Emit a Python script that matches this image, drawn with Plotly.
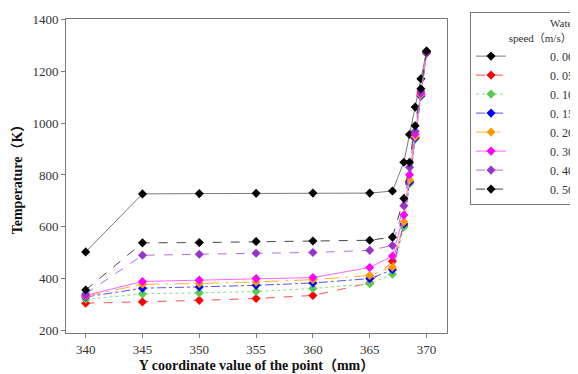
import plotly.graph_objects as go

x_mm = [340, 345, 350, 355, 360, 365, 367, 368, 368.5, 369, 369.5, 370]

speed_labels = ["0. 00", "0. 05", "0. 10", "0. 15", "0. 20", "0. 30", "0. 40", "0. 50"]

t_000 = [503, 727, 728, 729, 730, 730, 738, 849, 956, 1062, 1171, 1278]
t_005 = [305, 310, 316, 323, 335, 383, 467, 605, 775, 945, 1110, 1272]
t_010 = [320, 341, 345, 350, 362, 380, 417, 598, 766, 939, 1103, 1270]
t_015 = [329, 363, 368, 374, 383, 400, 434, 611, 772, 943, 1106, 1271]
t_020 = [332, 378, 381, 387, 396, 412, 444, 619, 780, 948, 1110, 1272]
t_030 = [335, 389, 394, 400, 404, 443, 487, 645, 801, 958, 1115, 1273]
t_040 = [341, 490, 494, 498, 501, 509, 528, 681, 830, 969, 1123, 1275]
t_050 = [356, 538, 539, 543, 545, 548, 560, 709, 849, 990, 1133, 1278]

series = [t_000, t_005, t_010, t_015, t_020, t_030, t_040, t_050]
line_colors = ["#7a7a7a", "#ff5050", "#88dd88", "#5555ff", "#ffb030", "#ff66ff", "#b070e0", "#444444"]
marker_colors = ["#000000", "#ff0000", "#55cc55", "#0000ff", "#ff9900", "#ff00ff", "#9933cc", "#000000"]
dashes = ["solid", "dash", "dot", "dashdot", "longdashdot", "solid", "dash", "dash"]

SERIF = "Liberation Serif, 'Times New Roman', 'Noto Sans CJK SC', serif"
pad = "\u00a0"

fig = go.Figure()
for lab, ys, lc, mc, d in zip(speed_labels, series, line_colors, marker_colors, dashes):
    fig.add_trace(go.Scatter(
        x=x_mm, y=ys, mode="lines+markers", name=pad * 13 + lab,
        line=dict(color=lc, width=1, dash=d),
        marker=dict(symbol="diamond", size=7, color=mc),
    ))

# page body has an 8px default margin, so the figure is 8px smaller than the window
fig.update_layout(
    width=570, height=366,
    margin=dict(l=58, r=131, t=11, b=41, autoexpand=False),
    paper_bgcolor="white", plot_bgcolor="white",
    font=dict(family=SERIF, size=13, color="#333333"),
    showlegend=True,
    legend=dict(
        x=1.0604, y=1.0223, xanchor="left", yanchor="top",
        bgcolor="white", bordercolor="#777777", borderwidth=1,
        font=dict(family=SERIF, size=12, color="#333333"),
        title=dict(text=pad * 28 + "Water<br>" + pad * 13 + "speed（m/s）",
                   font=dict(family=SERIF, size=11, color="#333333"), side="top"),
        tracegroupgap=0, itemwidth=30, maxheight=1,
    ),
    xaxis=dict(
        range=[338.27, 371.8], tickvals=[340, 345, 350, 355, 360, 365, 370],
        showgrid=False, zeroline=False, showline=True, linecolor="#777777", linewidth=1, mirror=True,
        ticks="outside", ticklen=4, tickcolor="#777777",
        title=dict(text="<b>Y coordinate value of the point（mm）</b>", standoff=4,
                   font=dict(family=SERIF, size=14, color="#111111")),
    ),
    yaxis=dict(
        range=[190, 1402], tickvals=[200, 400, 600, 800, 1000, 1200, 1400],
        showgrid=False, zeroline=False, showline=True, linecolor="#777777", linewidth=1, mirror=True,
        ticks="outside", ticklen=4, tickcolor="#777777",
        title=dict(text="<b>Temperature（K）</b>", standoff=6,
                   font=dict(family=SERIF, size=14, color="#111111")),
    ),
)

fig.write_html("out.html")
